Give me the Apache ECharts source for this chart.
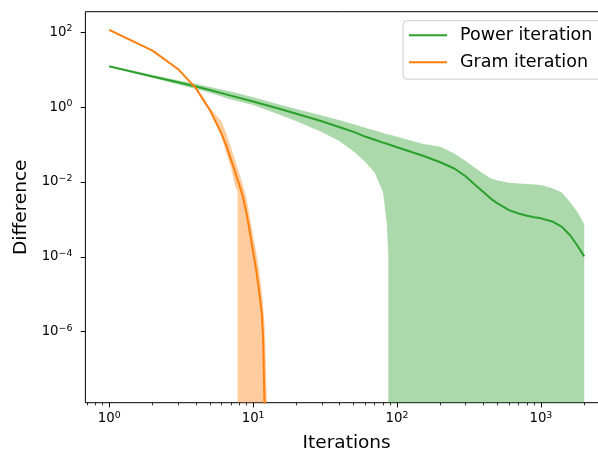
<!DOCTYPE html>
<html><head><meta charset="utf-8">
<script src="https://cdn.jsdelivr.net/npm/echarts@6/dist/echarts.min.js"></script>
<style>html,body{margin:0;padding:0;background:#fff}#c{width:598px;height:450px}</style>
</head><body><div id="c"></div>
<script>
const FONT = 'DejaVu Sans';

// Power iteration (green)
const powerIters = [1,2,3,4,5,7,10,15,20,30,40,50,60,70,80,85,87,90,100,150,200,250,300,350,400,450,500,600,700,800,900,1000,1200,1400,1600,1800,2000];
const powerMean  = [12.3,6.61,4.62,3.57,2.86,2.03,1.42,0.923,0.670,0.420,0.290,0.218,0.164,0.135,0.113,0.105,0.102,0.0977,0.0853,0.0513,0.0337,0.0230,0.0143,8.34e-3,5.32e-3,3.55e-3,2.69e-3,1.78e-3,1.44e-3,1.26e-3,1.15e-3,1.07e-3,8.83e-4,6.34e-4,3.73e-4,1.95e-4,1.03e-4];
const powerUpper = [13.1,7.21,5.20,4.19,3.48,2.64,1.83,1.19,0.895,0.597,0.444,0.349,0.283,0.238,0.203,0.190,0.187,0.182,0.162,0.105,0.0881,0.0579,0.0366,0.0238,0.0166,0.0124,0.0109,9.55e-3,9.10e-3,8.87e-3,8.61e-3,8.34e-3,6.86e-3,5.26e-3,2.84e-3,1.55e-3,7.40e-4];
const powerLower = [11.6,6.07,4.06,3.08,2.41,1.61,1.15,0.650,0.423,0.216,0.123,0.0655,0.0350,0.0178,5.36e-3,7.6e-4,1.1e-4,0,0,0,0,0,0,0,0,0,0,0,0,0,0,0,0,0,0,0,0];

// Gram iteration (orange)
const gramIters = [1,2,3,4,5,6,6.5,7,7.5,7.8,8,8.5,9,9.5,10,10.5,11,11.5,11.75,12,12.5];
const gramMean  = [116,32.5,10.5,3.22,0.847,0.202,0.0959,0.0410,0.0185,0.0115,8.77e-3,3.98e-3,1.45e-3,4.44e-4,1.37e-4,4.47e-5,1.26e-5,3.02e-6,6.3e-7,1.0e-8,null];
const gramUpper = [120,33.5,10.8,3.39,0.955,0.427,0.200,0.0851,0.0380,0.0240,0.0178,8.3e-3,3.7e-3,1.12e-3,3.7e-4,1.4e-4,4.47e-5,1.12e-5,4.4e-6,1.6e-6,1e-8];
const gramLower = [112,31.6,10.2,3.02,0.776,0.174,0.0603,0.0251,7.9e-3,5.5e-3,0,0,0,0,0,0,0,0,0,0,0];

// Axes
const xRange = [0.6831, 2922];
const yRange = [1.272e-8, 355.1];
const xMajorTicks = [1,10,100,1000];
const xMinorTicks = [0.7,0.8,0.9,2,3,4,5,6,7,8,9,20,30,40,50,60,70,80,90,200,300,400,500,600,700,800,900,2000];
const yMajorTicks = [1e-6,1e-4,1e-2,1,100];

const GREEN = '#2ca02c', ORANGE = '#ff7f0e';

function sci(v) {
  const e = Math.round(Math.log10(v));
  return '{b|10}{s|' + (e < 0 ? '\u2212' + (-e) : e) + '}';
}
const rich = {
  b: {fontFamily: FONT, fontSize: 13.3, color: '#000', lineHeight: 16},
  s: {fontFamily: FONT, fontSize: 9.4, color: '#000', verticalAlign: 'top', lineHeight: 6}
};

function bandSeries(xs, up, lo, color) {
  return {
    type: 'custom', silent: true, clip: true, animation: false,
    data: xs.map((x, i) => [x, up[i]]),
    encode: {x: 0, y: 1},
    renderItem(params, api) {
      if (params.dataIndex !== 0) return null;
      const cs = params.coordSys;
      const bottom = cs.y + cs.height;
      const top = [], low = [];
      for (let i = 0; i < xs.length; i++) {
        const p = api.coord([xs[i], up[i]]);
        top.push([p[0], Math.min(p[1], bottom)]);
      }
      for (let i = 0; i < xs.length; i++) {
        if (lo[i] > 0) {
          const p = api.coord([xs[i], lo[i]]);
          low.push([p[0], Math.min(p[1], bottom)]);
        } else {
          if (i > 0 && lo[i - 1] > 0) low.push([api.coord([xs[i - 1], lo[i - 1]])[0], bottom]);
          low.push([api.coord([xs[i], up[i]])[0], bottom]);
        }
      }
      return {type: 'polygon', shape: {points: top.concat(low.reverse())},
              style: {fill: color, opacity: 0.4}};
    }
  };
}

const chart = echarts.init(document.getElementById('c'), null, {renderer: 'canvas'});
chart.setOption({
  animation: false,
  backgroundColor: '#fff',
  grid: {left: 85.4, top: 11.7, width: 522.5, height: 391, show: true, containLabel: false,
         outerBoundsMode: 'none',
         borderColor: '#000', borderWidth: 1, backgroundColor: 'transparent'},
  legend: {
    orient: 'vertical', left: 403, top: 20.7,
    data: ['Power iteration', 'Gram iteration'],
    icon: 'rect', itemWidth: 38, itemHeight: 2, itemGap: 7,
    textStyle: {fontFamily: FONT, fontSize: 17.5, color: '#000', lineHeight: 20, padding: [0, 0, 0, 8]},
    backgroundColor: 'rgba(255,255,255,0.8)', borderColor: '#cccccc', borderWidth: 1, borderRadius: 4,
    padding: [4.5, 16, 7, 6]
  },
  xAxis: [{
    type: 'log', min: xRange[0], max: xRange[1], position: 'bottom',
    axisLine: {show: false},
    axisTick: {show: true, customValues: xMajorTicks, length: 4.7, lineStyle: {color: '#000', width: 1}},
    axisLabel: {customValues: xMajorTicks, formatter: sci, rich: rich, margin: 8},
    splitLine: {show: false}, minorTick: {show: false},
    name: 'Iterations', nameLocation: 'middle', nameGap: 31,
    nameTextStyle: {fontFamily: FONT, fontSize: 18.5, color: '#000'}
  }, {
    type: 'log', min: xRange[0], max: xRange[1], position: 'bottom',
    axisLine: {show: false},
    axisTick: {show: true, customValues: xMinorTicks, length: 2.7, lineStyle: {color: '#000', width: 0.8}},
    axisLabel: {show: false}, splitLine: {show: false}
  }],
  yAxis: {
    type: 'log', min: yRange[0], max: yRange[1],
    axisLine: {show: false},
    axisTick: {show: true, customValues: yMajorTicks, length: 4.7, lineStyle: {color: '#000', width: 1}},
    axisLabel: {customValues: yMajorTicks, formatter: sci, rich: rich, margin: 13},
    splitLine: {show: false}, minorTick: {show: false},
    name: 'Difference', nameLocation: 'middle', nameGap: 50,
    nameTextStyle: {fontFamily: FONT, fontSize: 18.5, color: '#000'}
  },
  series: [
    bandSeries(powerIters, powerUpper, powerLower, GREEN),
    {type: 'line', name: 'Power iteration', data: powerIters.map((x, i) => [x, powerMean[i]]),
     showSymbol: false, symbol: 'none', lineStyle: {color: GREEN, width: 2}, itemStyle: {color: GREEN}},
    bandSeries(gramIters, gramUpper, gramLower, ORANGE),
    {type: 'line', name: 'Gram iteration', data: gramIters.map((x, i) => [x, gramMean[i]]),
     showSymbol: false, symbol: 'none', lineStyle: {color: ORANGE, width: 2}, itemStyle: {color: ORANGE}}
  ]
});
</script></body></html>
